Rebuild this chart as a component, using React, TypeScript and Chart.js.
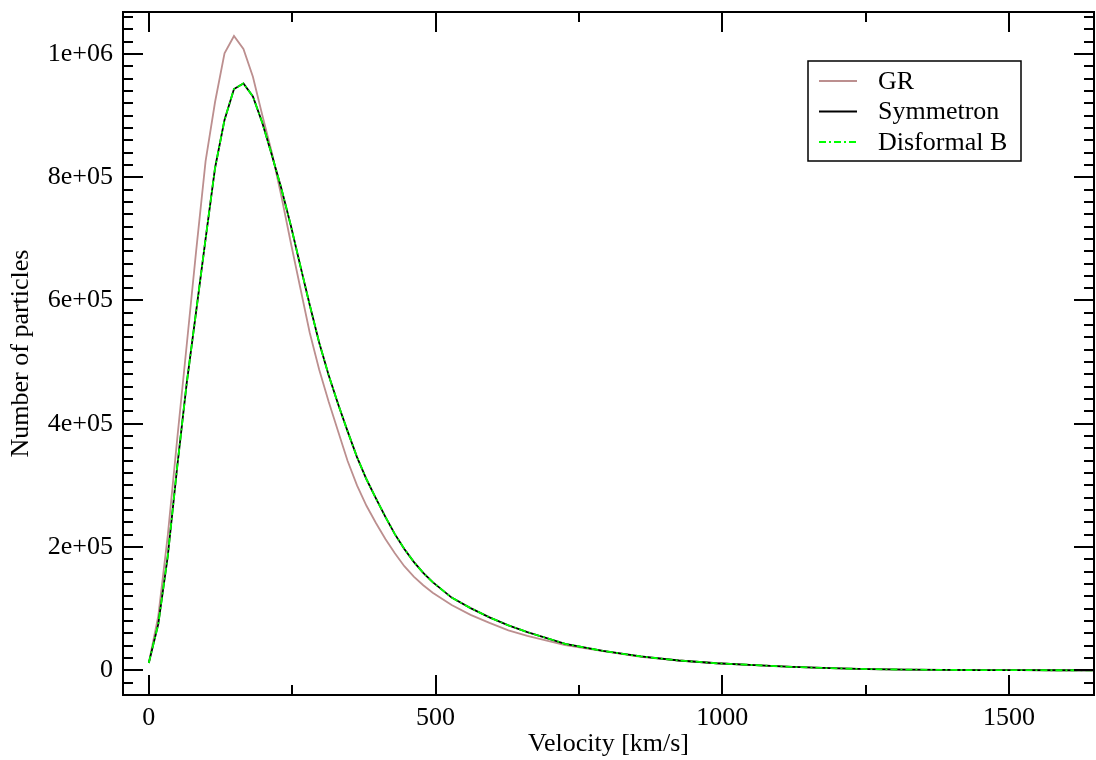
import React, { useEffect, useRef } from "react";
import { Chart, registerables } from "chart.js";

Chart.register(...registerables);

// Velocity bins [km/s]
const velocity = [
  0, 16.5, 33, 49.5, 66, 82.5, 99, 115.5, 132, 148.5, 165, 181.5, 198, 214.5, 231,
  247.5, 264, 280.5, 297, 313.5, 330, 346.5, 363, 379.5, 396, 412.5, 429, 445.5, 462,
  478.5, 495, 528, 561, 594, 627, 660, 726, 792, 858, 924, 990, 1056, 1122, 1188, 1254,
  1320, 1386, 1452, 1518, 1584, 1650,
];

const grCounts = [
  12000, 88000, 218000, 375000, 527000, 680000, 826000, 922000, 1001000, 1029000, 1008000,
  963000, 900000, 840000, 770000, 694000, 621000, 548000, 488000, 436000, 388000, 340000,
  300000, 267000, 239000, 213000, 190000, 169000, 152000, 138000, 126000, 106000, 90000,
  77000, 65000, 56000, 41000, 31000, 22000, 16000, 11500, 8500, 5500, 3500, 2000, 1200,
  700, 400, 250, 150, 100,
];

const symmetronCounts = [
  12000, 75000, 185000, 330000, 465000, 582000, 700000, 815000, 893000, 943000, 952000,
  931000, 888000, 836000, 782000, 722000, 657000, 593000, 532000, 479000, 432000, 388000,
  346000, 310000, 279000, 249000, 221000, 197000, 176000, 158000, 143000, 118000, 101000,
  86000, 73000, 62000, 43000, 31500, 22500, 16000, 11500, 8500, 5500, 3500, 2000, 1200,
  700, 400, 250, 150, 100,
];

const disformalBCounts = [
  12000, 75000, 185000, 330000, 465000, 582000, 700000, 815000, 893000, 943000, 952000,
  931000, 888000, 836000, 782000, 722000, 657000, 593000, 532000, 479000, 432000, 388000,
  346000, 310000, 279000, 249000, 221000, 197000, 176000, 158000, 143000, 118000, 101000,
  86000, 73000, 62000, 43000, 31500, 22500, 16000, 11500, 8500, 5500, 3500, 2000, 1200,
  700, 400, 250, 150, 100,
];

const seriesNames = ["GR", "Symmetron", "Disformal B"];
const xTickValues = [0, 500, 1000, 1500];
const xTickLabels = ["0", "500", "1000", "1500"];
const yTickValues = [0, 200000, 400000, 600000, 800000, 1000000];
const yTickLabels = ["0", "2e+05", "4e+05", "6e+05", "8e+05", "1e+06"];

const FONT = '"Liberation Serif", "DejaVu Serif", "Times New Roman", serif';
const FS = 26;

const colors = ["#bc8f8f", "#000000", "#00ff00"];
const dashes: number[][] = [[], [], [7, 3, 2, 3]];

const framePlugin = {
  id: "gracebox",
  afterDatasetsDraw(chart: any) {
    const { ctx, chartArea } = chart;
    const { left, right, top, bottom } = chartArea;
    const xs = chart.scales.x;
    const ys = chart.scales.y;
    ctx.save();
    ctx.strokeStyle = "#000";
    ctx.lineWidth = 2;
    ctx.setLineDash([]);
    ctx.strokeRect(left, top, right - left, bottom - top);
    const major = 20;
    const minor = 10;
    // x ticks
    const xMin = xs.min, xMax = xs.max;
    for (let v = 0; v <= xMax; v += 250) {
      if (v < xMin) continue;
      const isMajor = v % 500 === 0;
      const len = isMajor ? major : minor;
      const px = Math.round(xs.getPixelForValue(v));
      ctx.beginPath();
      ctx.moveTo(px, bottom);
      ctx.lineTo(px, bottom - len);
      ctx.moveTo(px, top);
      ctx.lineTo(px, top + len);
      ctx.stroke();
    }
    // y ticks
    const yMin = ys.min, yMax = ys.max;
    for (let k = Math.ceil(yMin / 20000); k * 20000 <= yMax; k++) {
      const v = k * 20000;
      const isMajor = k % 10 === 0;
      const len = isMajor ? major : minor;
      const py = Math.round(ys.getPixelForValue(v));
      ctx.beginPath();
      ctx.moveTo(left, py);
      ctx.lineTo(left + len, py);
      ctx.moveTo(right, py);
      ctx.lineTo(right - len, py);
      ctx.stroke();
    }
    // legend
    const bx = 808, by = 61, bw = 213, bh = 100;
    ctx.fillStyle = "#fff";
    ctx.fillRect(bx, by, bw, bh);
    ctx.lineWidth = 1.5;
    ctx.strokeRect(bx, by, bw, bh);
    ctx.font = `${FS}px ${FONT}`;
    ctx.textBaseline = "middle";
    ctx.textAlign = "left";
    const rows = [81, 111.5, 142];
    seriesNames.forEach((name, i) => {
      const y = rows[i];
      ctx.strokeStyle = colors[i];
      ctx.lineWidth = 1.8;
      ctx.setLineDash(dashes[i]);
      ctx.beginPath();
      ctx.moveTo(819, y);
      ctx.lineTo(857, y);
      ctx.stroke();
      ctx.setLineDash([]);
      ctx.fillStyle = "#000";
      ctx.fillText(name, 878, y + 1);
    });
    ctx.restore();
  },
};

export default function App() {
  const ref = useRef<HTMLCanvasElement | null>(null);
  useEffect(() => {
    if (!ref.current) return;
    const seriesData = [grCounts, symmetronCounts, disformalBCounts];
    const chart = new Chart(ref.current, {
      type: "line",
      data: {
        datasets: seriesNames.map((name, i) => ({
          label: name,
          data: velocity.map((v, j) => ({ x: v, y: seriesData[i][j] })),
          borderColor: colors[i],
          borderWidth: 1.8,
          borderDash: dashes[i],
          pointRadius: 0,
          tension: 0,
          fill: false,
          order: 3 - i,
        })),
      },
      options: {
        responsive: false,
        animation: false,
        devicePixelRatio: 1,
        layout: { padding: { top: 12, right: 2, left: 0, bottom: 0 } },
        plugins: {
          legend: { display: false },
          tooltip: { enabled: false },
        },
        scales: {
          x: {
            type: "linear",
            min: -45,
            max: 1648,
            afterFit: (s: any) => {
              s.height = 65;
              s.paddingLeft = 0;
              s.paddingRight = 0;
            },
            afterBuildTicks: (s: any) => {
              s.ticks = xTickValues.map((v) => ({ value: v }));
            },
            grid: { display: false, drawTicks: false },
            border: { display: false },
            ticks: {
              padding: 8,
              color: "#000",
              font: { family: FONT, size: FS },
              maxRotation: 0,
              callback: (v: any) => {
                const idx = xTickValues.indexOf(Number(v));
                return idx >= 0 ? xTickLabels[idx] : "";
              },
            },
            title: {
              display: true,
              text: "Velocity [km/s]",
              color: "#000",
              font: { family: FONT, size: FS },
              padding: { top: 0, bottom: 0 },
            },
          },
          y: {
            type: "linear",
            min: -40000,
            max: 1068000,
            afterFit: (s: any) => {
              s.width = 123;
              s.paddingTop = 0;
              s.paddingBottom = 0;
            },
            afterBuildTicks: (s: any) => {
              s.ticks = yTickValues.map((v) => ({ value: v }));
            },
            grid: { display: false, drawTicks: false },
            border: { display: false },
            ticks: {
              padding: 10,
              color: "#000",
              font: { family: FONT, size: FS },
              callback: (v: any) => {
                const idx = yTickValues.indexOf(Number(v));
                return idx >= 0 ? yTickLabels[idx] : "";
              },
            },
            title: {
              display: true,
              text: "Number of particles",
              color: "#000",
              font: { family: FONT, size: FS },
              padding: { top: 6, bottom: 0 },
            },
          },
        },
      },
      plugins: [framePlugin],
    });
    return () => chart.destroy();
  }, []);
  return (
    <div style={{ position: "absolute", left: 0, top: 0, width: 1096, height: 760, background: "#fff" }}>
      <canvas ref={ref} width={1096} height={760} style={{ display: "block" }} />
    </div>
  );
}
